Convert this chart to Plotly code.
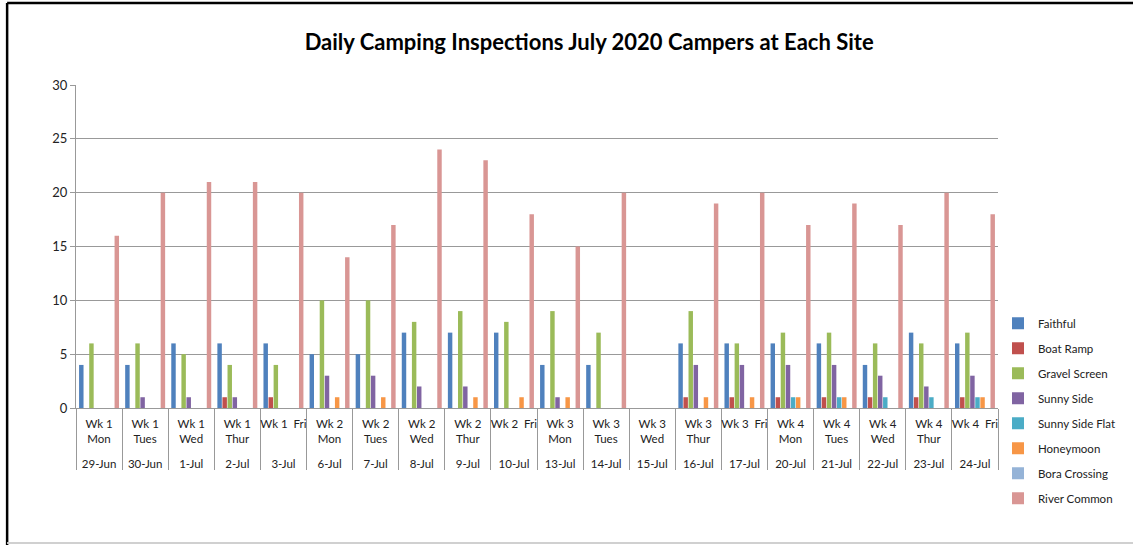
import plotly.graph_objects as go

# Categories
dates = ["29-Jun", "30-Jun", "1-Jul", "2-Jul", "3-Jul",
         "6-Jul", "7-Jul", "8-Jul", "9-Jul", "10-Jul",
         "13-Jul", "14-Jul", "15-Jul", "16-Jul", "17-Jul",
         "20-Jul", "21-Jul", "22-Jul", "23-Jul", "24-Jul"]
days = ["Wk 1<br>Mon", "Wk 1<br>Tues", "Wk 1<br>Wed", "Wk 1<br>Thur", "Wk 1  Fri",
        "Wk 2<br>Mon", "Wk 2<br>Tues", "Wk 2<br>Wed", "Wk 2<br>Thur", "Wk 2  Fri",
        "Wk 3<br>Mon", "Wk 3<br>Tues", "Wk 3<br>Wed", "Wk 3<br>Thur", "Wk 3  Fri",
        "Wk 4<br>Mon", "Wk 4<br>Tues", "Wk 4<br>Wed", "Wk 4<br>Thur", "Wk 4  Fri"]

# Series values
faithful = [4, 4, 6, 6, 6, 5, 5, 7, 7, 7, 4, 4, 0, 6, 6, 6, 6, 4, 7, 6]
boat_ramp = [0, 0, 0, 1, 1, 0, 0, 0, 0, 0, 0, 0, 0, 1, 1, 1, 1, 1, 1, 1]
gravel_screen = [6, 6, 5, 4, 4, 10, 10, 8, 9, 8, 9, 7, 0, 9, 6, 7, 7, 6, 6, 7]
sunny_side = [0, 1, 1, 1, 0, 3, 3, 2, 2, 0, 1, 0, 0, 4, 4, 4, 4, 3, 2, 3]
sunny_side_flat = [0, 0, 0, 0, 0, 0, 0, 0, 0, 0, 0, 0, 0, 0, 0, 1, 1, 1, 1, 1]
honeymoon = [0, 0, 0, 0, 0, 1, 1, 0, 1, 1, 1, 0, 0, 1, 1, 1, 1, 0, 0, 1]
bora_crossing = [0] * 20
river_common = [16, 20, 21, 21, 20, 14, 17, 24, 23, 18, 15, 20, 0, 19, 20, 17, 19, 17, 20, 18]

series = [
    ("Faithful", faithful, "#4F81BD"),
    ("Boat Ramp", boat_ramp, "#C0504D"),
    ("Gravel Screen", gravel_screen, "#9BBB59"),
    ("Sunny Side", sunny_side, "#8064A2"),
    ("Sunny Side Flat", sunny_side_flat, "#4BACC6"),
    ("Honeymoon", honeymoon, "#F79646"),
    ("Bora Crossing", bora_crossing, "#95B3D7"),
    ("River Common", river_common, "#D99694"),
]

FONT = "Lato, 'Noto Sans', sans-serif"

# pad the inner (day) labels with an empty line so the date row sits lower
day_labels = [d if "<br>" in d else d + "<br>\u00a0" for d in days]
day_labels = [d + "<br>\u00a0" for d in day_labels]

fig = go.Figure()
for name, vals, color in series:
    fig.add_trace(go.Bar(
        x=[dates, day_labels], y=vals, name=name, legendgroup=name,
        marker=dict(color=color, line=dict(width=0)),
    ))

fig.update_layout(
    width=1133, height=545,
    margin=dict(l=76, r=133, t=85, b=137),
    paper_bgcolor="white", plot_bgcolor="white",
    font=dict(family=FONT, size=11, color="#222"),
    title=dict(text="<b>Daily Camping Inspections July 2020 Campers at Each Site</b>",
               x=0.52, xanchor="center", y=0.923, yanchor="middle",
               font=dict(size=22, color="black")),
    barmode="group", bargap=0.12, bargroupgap=0.12,
    legend=dict(x=1.0, y=0.307, xanchor="left", yanchor="top",
                font=dict(size=11.5, color="#222"), tracegroupgap=6,
                itemwidth=30, bgcolor="rgba(0,0,0,0)"),
    showlegend=True,
)

fig.update_yaxes(range=[0, 30], dtick=5, showgrid=True, gridcolor="#999999",
                 gridwidth=1, showline=True, linecolor="#999999",
                 ticks="outside", ticklen=5, tickcolor="#999999",
                 tickfont=dict(size=13, color="#222"), zeroline=False)
fig.update_xaxes(type="multicategory", showline=True, linecolor="#999999",
                 showdividers=True, dividercolor="#999999", dividerwidth=1,
                 tickangle=0, ticklabelstandoff=5,
                 tickfont=dict(size=11.5, color="#222"), showgrid=False)

# Chart frame: black left and top edges, light grey bottom edge
fig.add_shape(type="line", xref="paper", yref="paper",
              x0=-0.0747, x1=-0.0747, y0=-0.43, y1=1.254,
              line=dict(color="black", width=2.5))
fig.add_shape(type="line", xref="paper", yref="paper",
              x0=-0.0747, x1=1.15, y0=1.254, y1=1.254,
              line=dict(color="black", width=2.5))
fig.add_shape(type="line", xref="paper", yref="paper",
              x0=-0.0747, x1=1.15, y0=-0.418, y1=-0.418,
              line=dict(color="#d0d0d0", width=2))

fig.write_html("out.html", config={"displayModeBar": False},
               post_script="document.body.style.margin='0px';")
